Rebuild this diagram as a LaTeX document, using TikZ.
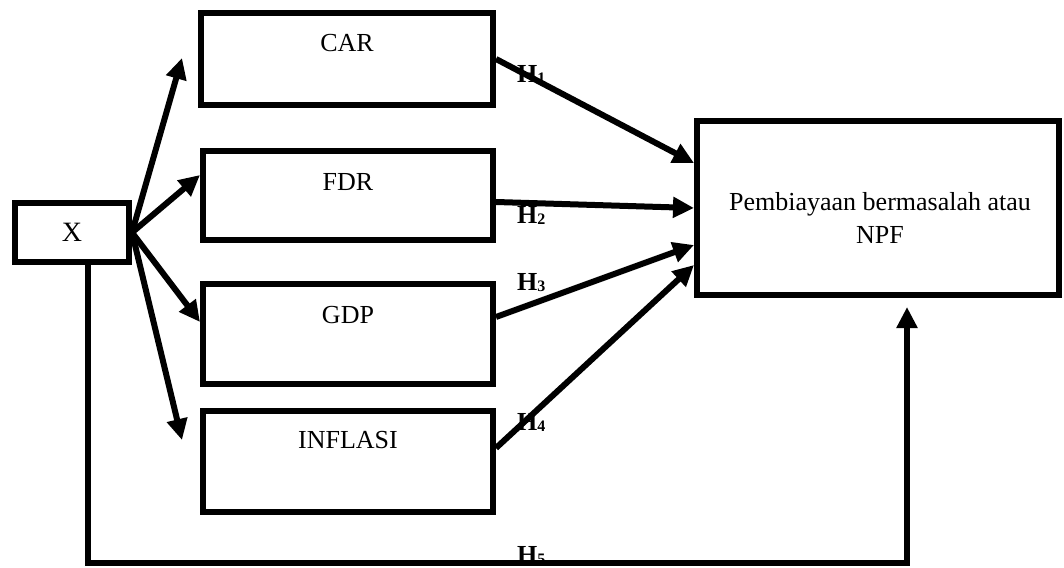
\documentclass[tikz,border=0pt]{standalone}
\usepackage{fontspec}
\setmainfont{Liberation Serif}
\usetikzlibrary{arrows.meta}
\begin{document}
\begin{tikzpicture}[x=1pt,y=-1pt,
  box/.style={draw, line width=6pt, inner sep=0pt, outer sep=3pt},
  conn/.style={line width=6pt, -{Triangle[length=21pt,width=20pt]}},
  txt/.style={font=\fontsize{26}{30}\selectfont, anchor=base, inner sep=0pt},
  hl/.style={font=\fontsize{26}{30}\selectfont\bfseries, anchor=base west, inner sep=0pt}]
\useasboundingbox (0,0) rectangle (1064,567);
% boxes
\node[box, minimum width=114pt, minimum height=59pt, font=\fontsize{28}{30}\selectfont] (x) at (72,232.5) {X};
\node[box, minimum width=292pt, minimum height=92pt] (car) at (347,59) {};
\node[box, minimum width=290pt, minimum height=89pt] (fdr) at (348,195) {};
\node[box, minimum width=290pt, minimum height=100pt] (gdp) at (348,334) {};
\node[box, minimum width=290pt, minimum height=101pt] (inf) at (348,461) {};
\node[box, minimum width=362pt, minimum height=174pt] (npf) at (878,208) {};
% box texts
\node[txt] (tcar) at (347,52) {CAR};
\node[txt] (tfdr) at (348,190) {FDR};
\node[txt] (tgdp) at (348,323) {GDP};
\node[txt] (tinf) at (348,448) {INFLASI};
\node[font=\fontsize{26}{33}\selectfont, align=center, inner sep=0pt] (tnpf) at (880,218) {Pembiayaan bermasalah atau\\NPF};
% free ends
\coordinate (up) at (182,58);
\coordinate (down) at (182,440);
\coordinate (bl) at (88,563);
% arrows from X
\draw[conn] (x.east) -- (up);
\draw[conn] (x.east) -- ([yshift=20pt]fdr.west);
\draw[conn] (x.east) -- ([yshift=12pt]gdp.west);
\draw[conn] (x.east) -- (down);
% arrows to NPF
\draw[conn] (car.east) -- ([yshift=45pt]npf.west);
\draw[conn] ([yshift=-7pt]fdr.east) -- (npf.west);
\draw[conn] ([yshift=17pt]gdp.east) -- ([yshift=-37pt]npf.west);
\draw[conn] ([yshift=13pt]inf.east) -- ([yshift=-57pt]npf.west);
% H5 path
\draw[conn] (x.south -| bl) -- (bl) -| ([xshift=29pt,yshift=-9pt]npf.south);
% labels
\node[hl] (h1) at (517,83) {H\raisebox{-1pt}{\fontsize{16}{16}\selectfont 1}};
\node[hl] (h2) at (517,223) {H\raisebox{-1pt}{\fontsize{16}{16}\selectfont 2}};
\node[hl] (h3) at (517,290) {H\raisebox{-1pt}{\fontsize{16}{16}\selectfont 3}};
\node[hl] (h4) at (517,430) {H\raisebox{-1pt}{\fontsize{16}{16}\selectfont 4}};
\node[hl] (h5) at (517,563) {H\raisebox{-1pt}{\fontsize{16}{16}\selectfont 5}};
\end{tikzpicture}
\end{document}
